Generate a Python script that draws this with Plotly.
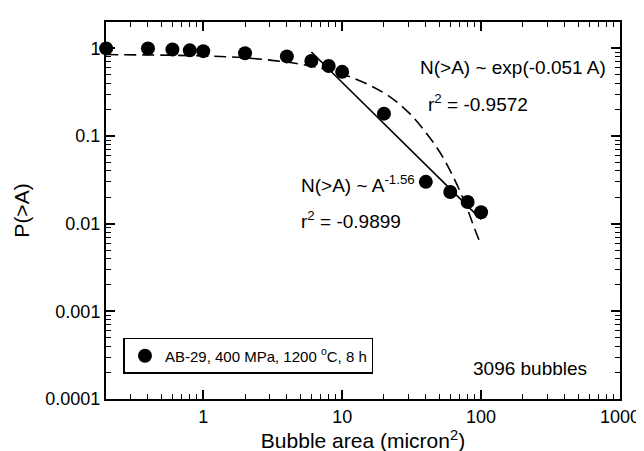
import plotly.graph_objects as go

# Data points
area = [0.2, 0.4, 0.6, 0.8, 1.0, 2.0, 4.0, 6.0, 8.0, 10.0, 20.0, 40.0, 60.0, 80.0, 100.0]
prob = [1.0, 1.0, 0.97, 0.95, 0.93, 0.88, 0.81, 0.72, 0.63, 0.54, 0.18, 0.030, 0.023, 0.0177, 0.0135]

# Exponential fit curve
exp_area = [0.2, 1, 2, 5, 10, 20, 30, 40, 50, 60, 70, 80, 90, 100]
exp_prob = [0.85, 0.82, 0.78, 0.66, 0.51, 0.31, 0.186, 0.11, 0.067, 0.040, 0.024, 0.0145, 0.0087, 0.0057]

# Power-law fit line (end points)
pow_area = [6.0, 100.0]
pow_prob = [0.91, 0.0112]

y_tickvals = [0.0001, 0.001, 0.01, 0.1, 1]
y_ticktext = ["0.0001", "0.001", "0.01", "0.1", "1"]
x_tickvals = [1, 10, 100, 1000]
x_ticktext = ["1", "10", "100", "1000"]

x_minor = [m * 10 ** e for e in range(-1, 3) for m in range(2, 10)]
y_minor = [m * 10 ** e for e in range(-4, 0) for m in range(2, 10)]

FONT = "Liberation Sans, Arial, Helvetica, sans-serif"

fig = go.Figure()
fig.add_trace(go.Scatter(x=exp_area, y=exp_prob, mode="lines",
                         line=dict(color="black", width=1.6, dash="12px,6px", shape="spline"),
                         showlegend=False, hoverinfo="skip"))
fig.add_trace(go.Scatter(x=pow_area, y=pow_prob, mode="lines", line=dict(color="black", width=1.6),
                         showlegend=False, hoverinfo="skip"))
fig.add_trace(go.Scatter(x=area, y=prob, mode="markers", marker=dict(color="black", size=14),
                         cliponaxis=False,
                         name="AB-29, 400 MPa, 1200 <sup>o</sup>C, 8 h"))

def axis_common(minor_vals):
    return dict(
        showgrid=False, zeroline=False, showline=True, linecolor="black", linewidth=2,
        mirror="ticks", ticks="inside", ticklen=9, tickwidth=1.5, tickcolor="black",
        tickfont=dict(family=FONT, size=18, color="black"),
        minor=dict(tickvals=minor_vals, ticks="inside", ticklen=5, tickwidth=1.3,
                   tickcolor="black", showgrid=False),
    )

fig.update_xaxes(type="log", range=[-0.7, 3], tickvals=x_tickvals, ticktext=x_ticktext,
                 title=dict(text="Bubble area (micron<sup>2</sup>)", font=dict(family=FONT, size=21, color="black"), standoff=6),
                 **axis_common(x_minor))
fig.update_yaxes(type="log", range=[-4, 0.30103], tickvals=y_tickvals, ticktext=y_ticktext,
                 title=dict(text="P(>A)", font=dict(family=FONT, size=21, color="black"), standoff=10),
                 **axis_common(y_minor))

ann_font = dict(family=FONT, size=19, color="black")
fig.add_annotation(x=2.227, y=-0.223, xref="x", yref="y", text="N(>A) ~ exp(-0.051 A)", showarrow=False, font=ann_font, xanchor="center")
fig.add_annotation(x=1.98, y=-0.62, xref="x", yref="y", text="r<sup>2</sup> = -0.9572", showarrow=False, font=ann_font, xanchor="center")
fig.add_annotation(x=1.113, y=-1.55, xref="x", yref="y", text="N(>A) ~ A<sup>-1.56</sup>", showarrow=False, font=ann_font, xanchor="center")
fig.add_annotation(x=1.064, y=-1.96, xref="x", yref="y", text="r<sup>2</sup> = -0.9899", showarrow=False, font=ann_font, xanchor="center")
fig.add_annotation(x=2.355, y=-3.65, xref="x", yref="y", text="3096 bubbles", showarrow=False, font=ann_font, xanchor="center")

fig.update_layout(
    width=644, height=451,
    margin=dict(l=98, r=22, t=13, b=53),
    paper_bgcolor="white", plot_bgcolor="white",
    font=dict(family=FONT, color="black"),
    showlegend=True,
    legend=dict(x=0.034, y=0.162, xanchor="left", yanchor="top",
                bordercolor="black", borderwidth=1.5, bgcolor="white",
                font=dict(family=FONT, size=15, color="black"),
                itemwidth=30, tracegroupgap=0),
)

fig.write_html("out.html")
